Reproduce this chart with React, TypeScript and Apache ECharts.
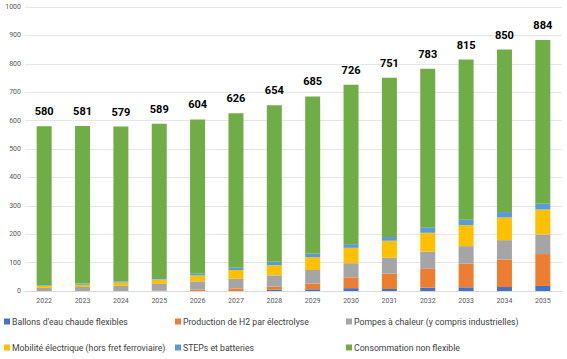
import React, { useEffect, useRef } from "react";
import * as echarts from "echarts";

const years = ["2022","2023","2024","2025","2026","2027","2028","2029","2030","2031","2032","2033","2034","2035"];
const ballons = [0, 0, 0, 0, 0, 0, 5, 6, 10, 7, 12, 13, 14, 18];
const h2 = [0, 0, 0, 1, 5, 9, 10, 20, 38, 54, 66, 83, 97, 112];
const pac = [11, 14, 18, 24, 29, 34, 40, 48, 50, 56, 61, 62, 68, 69];
const mobilite = [7, 8, 12, 16, 21, 31, 36, 45, 54, 60, 66, 74, 80, 88];
const steps = [2, 4, 4, 5, 7, 8, 12, 12, 13, 13, 19, 19, 19, 20];
const nonFlex = [560, 555, 545, 543, 542, 544, 551, 554, 561, 561, 559, 564, 572, 577];
const yTicks = [0, 100, 200, 300, 400, 500, 600, 700, 800, 900, 1000];

const names = [
  "Ballons d'eau chaude flexibles",
  "Production de H2 par électrolyse",
  "Pompes à chaleur (y compris industrielles)",
  "Mobilité électrique (hors fret ferroviaire)",
  "STEPs et batteries",
  "Consommation non flexible",
];
const colors = ["#4472C4", "#ED7D31", "#A5A5A5", "#FFC000", "#5B9BD5", "#70AD47"];
const seriesData = [ballons, h2, pac, mobilite, steps, nonFlex];

export default function App() {
  const ref = useRef<HTMLDivElement>(null);
  useEffect(() => {
    if (!ref.current) return;
    const chart = echarts.init(ref.current, null, { renderer: "svg" });
    const totals = years.map((_, i) => seriesData.reduce((s, arr) => s + arr[i], 0));
    const font = "Roboto";
    const legendCommon = {
      orient: "vertical" as const,
      top: 317,
      padding: 0,
      height: 42,
      itemWidth: 6,
      itemHeight: 6,
      itemGap: 17,
      icon: "rect",
      textStyle: { fontFamily: font, fontSize: 8.7, color: "#404040", padding: [0, 0, 0, -3] },
    };
    chart.setOption({
      animation: false,
      textStyle: { fontFamily: font },
      grid: { left: 25, right: 5, top: 7, bottom: 68 },
      legend: [
        { ...legendCommon, left: 4, data: [names[0], names[3]] },
        { ...legendCommon, left: 175, data: [names[1], names[4]] },
        { ...legendCommon, left: 346, data: [names[2], names[5]] },
      ],
      xAxis: {
        type: "category",
        data: years,
        axisLine: { lineStyle: { color: "#d9d9d9" } },
        axisTick: { show: false },
        axisLabel: { fontSize: 7, color: "#595959", margin: 6 },
      },
      yAxis: {
        type: "value",
        min: 0,
        max: 1000,
        interval: 100,
        axisLabel: {
          fontSize: 7,
          color: "#595959",
          margin: 4,
          formatter: (v: number) => (yTicks.includes(v) ? String(v) : ""),
        },
        splitLine: { lineStyle: { color: "#e6e6e6" } },
      },
      series: names.map((n, k) => ({
        name: n,
        type: "bar",
        stack: "total",
        barWidth: 15,
        data: seriesData[k],
        itemStyle: { color: colors[k] },
        label:
          k === 5
            ? {
                show: true,
                position: "top",
                distance: 9,
                fontSize: 11,
                fontWeight: "bold",
                color: "#000",
                formatter: (p: any) => String(totals[p.dataIndex]),
              }
            : { show: false },
      })),
    });
    return () => chart.dispose();
  }, []);
  return <div ref={ref} style={{ width: 567, height: 359, position: "absolute", left: 0, top: 0 }} />;
}
